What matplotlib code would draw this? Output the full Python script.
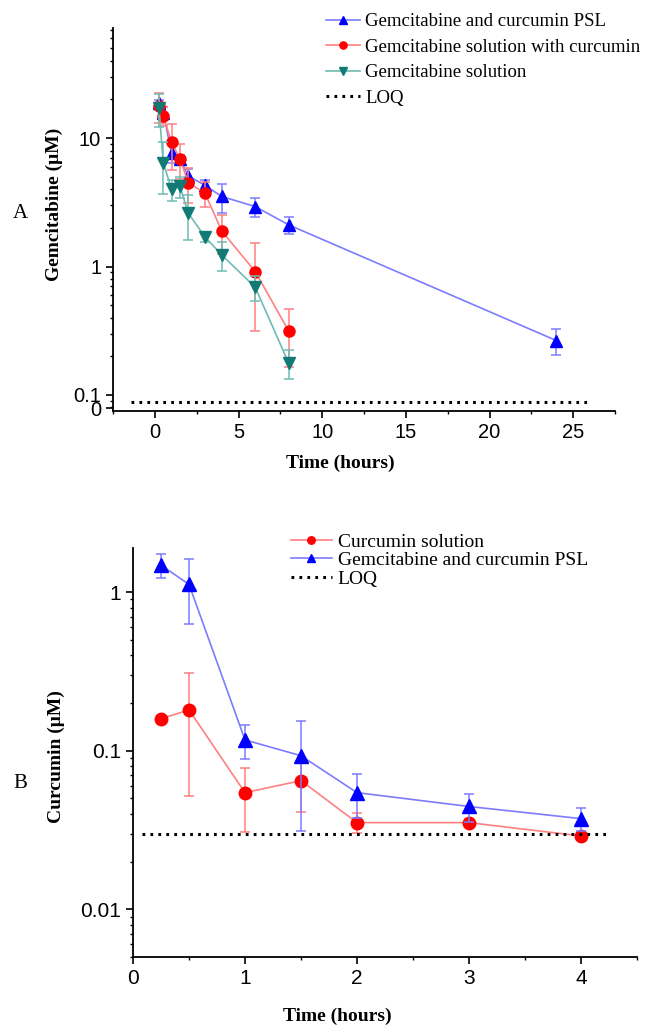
import numpy as np
import matplotlib
matplotlib.use("Agg")
import matplotlib.pyplot as plt
from matplotlib.ticker import FixedLocator, MultipleLocator, LogLocator, NullFormatter

# Panel A: gemcitabine plasma levels (uM), mean and SD
t_a = [0.25, 0.5, 1, 1.5, 2, 3, 4, 6, 8]
t_psl_a = [0.25, 0.5, 1, 1.5, 2, 3, 4, 6, 8, 24]
psl_a = [18.7, 15.7, 7.7, 6.85, 5.08, 4.28, 3.51, 2.93, 2.11, 0.265]
psl_a_sd = [1.2, 1.8, 1.3, 0.5, 0.7, 0.4, 0.9, 0.5, 0.33, 0.06]
gcur_a = [17.9, 14.9, 9.25, 6.9, 4.5, 3.72, 1.89, 0.914, 0.315]
gcur_a_sd = [4.7, 2.5, 3.6, 2.1, 1.4, 0.8, 0.63, 0.6, 0.15]
gsol_a = [17.1, 6.45, 4.0, 4.2, 2.6, 1.70, 1.23, 0.69, 0.177]
gsol_a_sd = [4.8, 2.8, 0.75, 0.8, 1.0, 0.15, 0.31, 0.15, 0.045]
loq_a = 0.088

# Panel B: curcumin plasma levels (uM)
t_b = [0.25, 0.5, 1, 1.5, 2, 3, 4]
cur_b = [0.159, 0.181, 0.0544, 0.0648, 0.0352, 0.0352, 0.029]
cur_b_sd = [0.004, 0.129, 0.0235, 0.024, 0.005, 0.002, 0.001]
psl_b = [1.48, 1.12, 0.117, 0.093, 0.0544, 0.0445, 0.0373]
psl_b_sd = [0.25, 0.49, 0.028, 0.062, 0.017, 0.009, 0.006]
loq_b = 0.03

SERIF = "Liberation Serif"
SANS = "Liberation Sans"

BLUE, BLUE_L = "#0000ff", "#7c7cff"
RED, RED_L = "#ff0000", "#ff8080"
TEAL, TEAL_L = "#117a74", "#6fbcb4"

fig = plt.figure(figsize=(6.49, 10.25), dpi=100)
W, H = 649, 1025


def px_axes(left, top, right, bottom):
    return fig.add_axes([left / W, 1 - bottom / H, (right - left) / W, (bottom - top) / H])


def series(ax, x, y, sd, mk, ms, c, cl, label):
    ax.errorbar(x, y, yerr=sd, fmt="none", ecolor=cl, elinewidth=1.1, capsize=3.5, capthick=1.1)
    ax.plot(x, y, "-", color=cl, lw=1.2, marker=mk, ms=ms, mfc=c, mec=c, label=label)


def style_axes(ax, fs):
    for s in ["top", "right"]:
        ax.spines[s].set_visible(False)
    for s in ["left", "bottom"]:
        ax.spines[s].set_linewidth(1.3)
    ax.tick_params(which="major", direction="out", length=5, width=1.2, labelsize=fs,
                   labelfontfamily=SANS)
    ax.tick_params(which="minor", direction="out", length=2.5, width=1.0)


# ---- panel A ----
ax1 = px_axes(113, 28, 615, 411)
ax1.set_yscale("log")
series(ax1, t_psl_a, psl_a, psl_a_sd, "^", 9, BLUE, BLUE_L, "Gemcitabine and curcumin PSL")
series(ax1, t_a, gcur_a, gcur_a_sd, "o", 8, RED, RED_L, "Gemcitabine solution with curcumin")
series(ax1, t_a, gsol_a, gsol_a_sd, "v", 9, TEAL, TEAL_L, "Gemcitabine solution")
ax1.plot([-1.4, 25.8], [loq_a, loq_a], color="black", lw=2.2, dashes=(0.9, 1.7), label="LOQ")
ax1.set_xlim(-2.5, 27.5)
ax1.set_ylim(0.075, 72)
ax1.xaxis.set_major_locator(MultipleLocator(5))
ax1.xaxis.set_minor_locator(MultipleLocator(2.5))
ax1.yaxis.set_major_locator(FixedLocator([0.079, 0.1, 1, 10]))
ax1.set_yticklabels(["0", "0.1", "1", "10"])
ax1.yaxis.set_minor_locator(LogLocator(base=10, subs=np.arange(2, 10)))
ax1.yaxis.set_minor_formatter(NullFormatter())
style_axes(ax1, 14.5)
ax1.set_xlabel("Time (hours)", fontfamily=SERIF, fontweight="bold", fontsize=14)
ax1.set_ylabel("Gemcitabine (\u03bcM)", fontfamily=SERIF, fontweight="bold", fontsize=14)
ax1.xaxis.set_label_coords(0.452, -0.115)
ax1.yaxis.set_label_coords(-0.1, 0.54)
fig.legend(*ax1.get_legend_handles_labels(), loc="upper left",
           bbox_to_anchor=(326 / W, 1 - 13 / H), frameon=False, borderpad=0, borderaxespad=0,
           prop={"family": SERIF, "size": 13.5}, handlelength=1.8, handletextpad=0.3,
           labelspacing=0.45, markerscale=0.65)

# ---- panel B ----
ax2 = px_axes(133, 548, 637, 957)
ax2.set_yscale("log")
series(ax2, t_b, cur_b, cur_b_sd, "o", 9, RED, RED_L, "Curcumin solution")
series(ax2, t_b, psl_b, psl_b_sd, "^", 9.5, BLUE, BLUE_L, "Gemcitabine and curcumin PSL")
ax2.plot([0.08, 4.23], [loq_b, loq_b], color="black", lw=2.2, dashes=(0.9, 1.7), label="LOQ")
ax2.set_xlim(0, 4.5)
ax2.set_ylim(0.005, 1.9)
ax2.xaxis.set_major_locator(MultipleLocator(1))
ax2.xaxis.set_minor_locator(MultipleLocator(0.5))
ax2.yaxis.set_major_locator(FixedLocator([0.01, 0.1, 1]))
ax2.set_yticklabels(["0.01", "0.1", "1"])
ax2.yaxis.set_minor_locator(LogLocator(base=10, subs=np.arange(2, 10)))
ax2.yaxis.set_minor_formatter(NullFormatter())
style_axes(ax2, 15)
ax2.set_xlabel("Time (hours)", fontfamily=SERIF, fontweight="bold", fontsize=14)
ax2.set_ylabel("Curcumin (\u03bcM)", fontfamily=SERIF, fontweight="bold", fontsize=14)
ax2.xaxis.set_label_coords(0.405, -0.125)
ax2.yaxis.set_label_coords(-0.135, 0.49)
fig.legend(*ax2.get_legend_handles_labels(), loc="upper left",
           bbox_to_anchor=(291 / W, 1 - 533 / H), frameon=False, borderpad=0, borderaxespad=0,
           prop={"family": SERIF, "size": 14}, handlelength=2.1, handletextpad=0.3,
           labelspacing=0.05, markerscale=0.6)

fig.text(20 / W, 1 - 213 / H, "A", fontfamily=SERIF, fontsize=15, ha="center", va="center")
fig.text(20 / W, 1 - 783 / H, "B", fontfamily=SERIF, fontsize=15, ha="center", va="center")

fig.savefig("out.png", dpi=100)
